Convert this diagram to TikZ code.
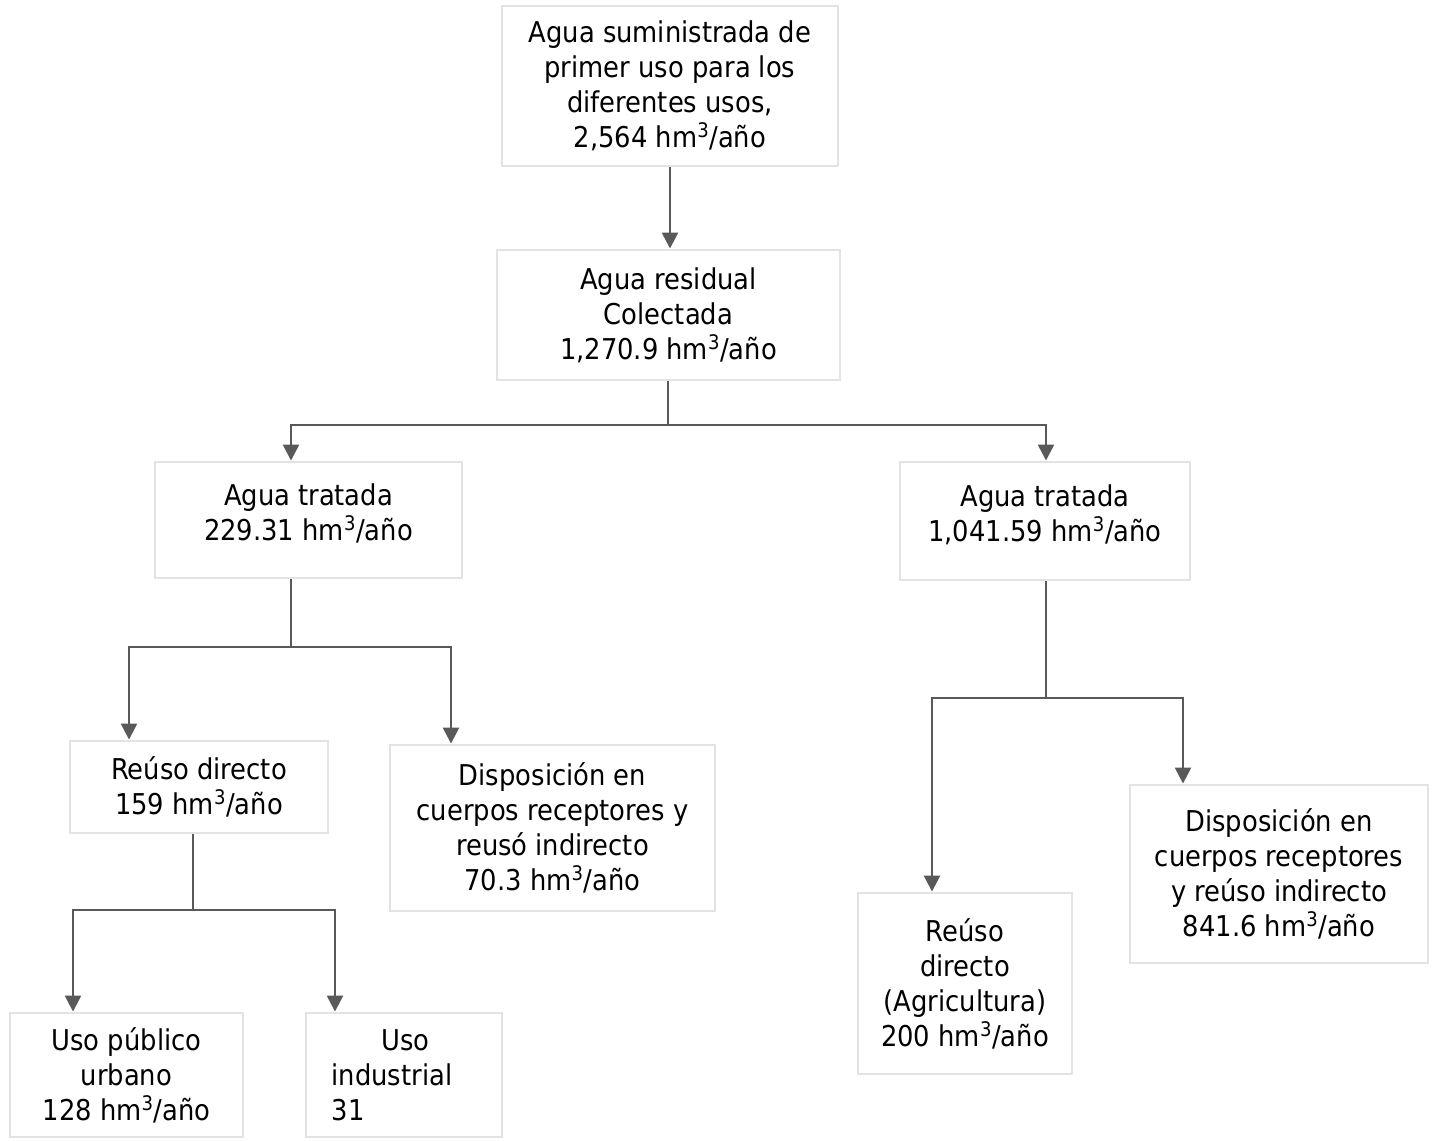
\documentclass[tikz,border=0pt]{standalone}
\usepackage{fontspec}
\usepackage{calc}
\setmainfont{DejaVu Sans Condensed}
\usetikzlibrary{arrows.meta}
\definecolor{boxline}{HTML}{E3E3E3}
\definecolor{flow}{HTML}{595959}
\newcommand{\hmy}{hm\textsuperscript{3}/año}
\begin{document}
\begin{tikzpicture}[x=0.75pt,y=-0.75pt,
  every node/.style={font=\fontsize{21.5pt}{26.3pt}\selectfont, inner sep=0pt},
  flowbox/.style={draw=boxline, line width=2.2pt, align=center, fill=white},
  arr/.style={draw=flow, line width=1.9pt, -{Triangle[width=12pt,length=12pt]}},
  ln/.style={draw=flow, line width=1.9pt}]
\useasboundingbox (0,0) rectangle (1435,1140);

% boxes (centre, width, height in px)
\node[flowbox, minimum width=336*0.75pt, minimum height=160*0.75pt] (b1) at (670,86)
  {Agua suministrada de\\primer uso para los\\diferentes usos,\\2,564 \hmy};
\node[flowbox, minimum width=343*0.75pt, minimum height=130*0.75pt] (b2) at (668.5,315)
  {Agua residual\\Colectada\\1,270.9 \hmy};
\node[flowbox, minimum width=307*0.75pt, minimum height=116*0.75pt] (b3) at (308.5,520)
  {Agua tratada\\229.31 \hmy\\[-14pt]};
\node[flowbox, minimum width=290*0.75pt, minimum height=118*0.75pt] (b4) at (1045,521)
  {Agua tratada\\1,041.59 \hmy\\[-14pt]};
\node[flowbox, minimum width=258*0.75pt, minimum height=92*0.75pt] (b5) at (199,787)
  {Reúso directo\\159 \hmy};
\node[flowbox, minimum width=325*0.75pt, minimum height=166*0.75pt] (b6) at (552.5,828)
  {Disposición en\\cuerpos receptores y\\reusó indirecto\\70.3 \hmy};
\node[flowbox, minimum width=214*0.75pt, minimum height=181*0.75pt] (b7) at (965,983.5)
  {Reúso\\directo\\(Agricultura)\\200 \hmy};
\node[flowbox, minimum width=298*0.75pt, minimum height=178*0.75pt] (b8) at (1279,874)
  {Disposición en\\cuerpos receptores\\y reúso indirecto\\841.6 \hmy};
\node[flowbox, minimum width=233*0.75pt, minimum height=124*0.75pt] (b9) at (126.5,1075)
  {Uso público\\urbano\\128 \hmy};
\node[flowbox, minimum width=196*0.75pt, minimum height=124*0.75pt, align=left] (b10) at (404,1075)
  {\makebox[\widthof{industrial}]{\hspace{20pt}Uso}\\industrial\rule{18pt}{0pt}\\31};

% junction points of the branching connectors
\coordinate (j1) at (668,425);
\coordinate (l1) at (291,425);
\coordinate (r1) at (1046,425);
\coordinate (j2) at (291,647);
\coordinate (l2) at (129,647);
\coordinate (r2) at (451,647);
\coordinate (j3) at (1046,698);
\coordinate (l3) at (932,698);
\coordinate (r3) at (1183,698);
\coordinate (j4) at (193,910);
\coordinate (l4) at (73,910);
\coordinate (r4) at (335,910);

% connectors
\draw[arr] (b1.south) -- (b1.south |- b2.north);

\draw[ln] (j1 |- b2.south) -- (j1);
\draw[arr] (j1) -- (l1) -- (l1 |- b3.north);
\draw[arr] (j1) -- (r1) -- (r1 |- b4.north);

\draw[ln] (j2 |- b3.south) -- (j2);
\draw[arr] (j2) -- (l2) -- (l2 |- b5.north);
\draw[arr] (j2) -- (r2) -- (r2 |- b6.north);

\draw[ln] (j3 |- b4.south) -- (j3);
\draw[arr] (j3) -- (l3) -- (l3 |- b7.north);
\draw[arr] (j3) -- (r3) -- (r3 |- b8.north);

\draw[ln] (j4 |- b5.south) -- (j4);
\draw[arr] (j4) -- (l4) -- (l4 |- b9.north);
\draw[arr] (j4) -- (r4) -- (r4 |- b10.north);
\end{tikzpicture}
\end{document}
